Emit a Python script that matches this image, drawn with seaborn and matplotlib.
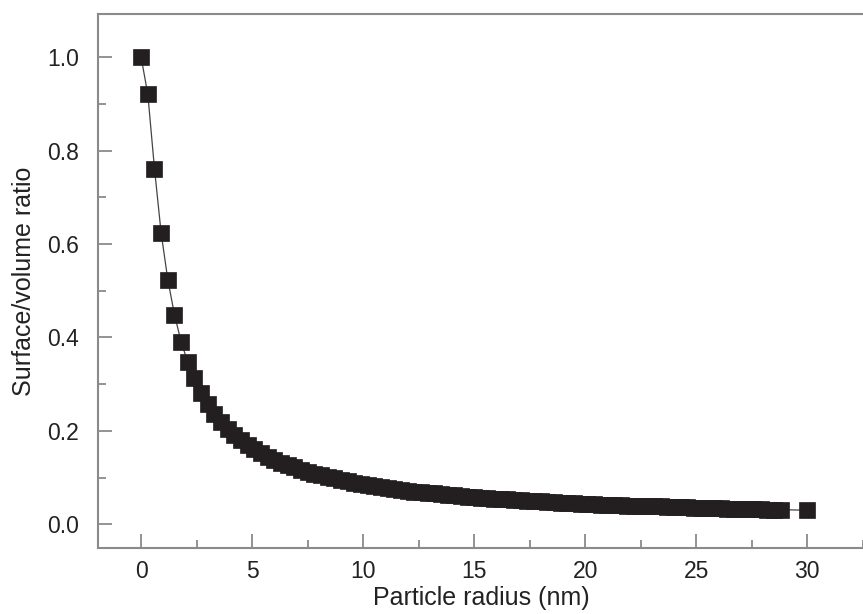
import matplotlib
matplotlib.use("Agg")
import matplotlib.pyplot as plt
from matplotlib.ticker import MultipleLocator
import seaborn as sns
import pandas as pd

# Particle radius (nm)
radius = [0.0, 0.3, 0.6, 0.9, 1.2, 1.5, 1.8, 2.1, 2.4, 2.7,
          3.0, 3.3, 3.6, 3.9, 4.2, 4.5, 4.8, 5.1, 5.4, 5.7,
          6.0, 6.3, 6.6, 6.9, 7.2, 7.5, 7.8, 8.1, 8.4, 8.7,
          9.0, 9.3, 9.6, 9.9, 10.2, 10.5, 10.8, 11.1, 11.4, 11.7,
          12.0, 12.3, 12.6, 12.9, 13.2, 13.5, 13.8, 14.1, 14.4, 14.7,
          15.0, 15.3, 15.6, 15.9, 16.2, 16.5, 16.8, 17.1, 17.4, 17.7,
          18.0, 18.3, 18.6, 18.9, 19.2, 19.5, 19.8, 20.1, 20.4, 20.7,
          21.0, 21.3, 21.6, 21.9, 22.2, 22.5, 22.8, 23.1, 23.4, 23.7,
          24.0, 24.3, 24.6, 24.9, 25.2, 25.5, 25.8, 26.1, 26.4, 26.7,
          27.0, 27.3, 27.6, 27.9, 28.2, 28.5, 28.8, 30.0]

# Surface / volume ratio
ratio = [1.000, 0.921, 0.762, 0.624, 0.524, 0.449, 0.391, 0.347, 0.313, 0.281,
         0.257, 0.237, 0.220, 0.205, 0.191, 0.180, 0.170, 0.161, 0.153, 0.145,
         0.138, 0.132, 0.127, 0.122, 0.117, 0.112, 0.108, 0.105, 0.101, 0.098,
         0.095, 0.092, 0.089, 0.087, 0.084, 0.082, 0.080, 0.078, 0.076, 0.074,
         0.072, 0.070, 0.069, 0.067, 0.066, 0.064, 0.063, 0.062, 0.060, 0.059,
         0.058, 0.057, 0.056, 0.055, 0.054, 0.053, 0.052, 0.051, 0.050, 0.049,
         0.049, 0.048, 0.047, 0.046, 0.046, 0.045, 0.044, 0.044, 0.043, 0.042,
         0.042, 0.041, 0.041, 0.040, 0.040, 0.039, 0.039, 0.038, 0.038, 0.037,
         0.037, 0.036, 0.036, 0.035, 0.035, 0.035, 0.034, 0.034, 0.033, 0.033,
         0.033, 0.032, 0.032, 0.032, 0.031, 0.031, 0.031, 0.030]

x_ticks = [0, 5, 10, 15, 20, 25, 30]
y_ticks = [0.0, 0.2, 0.4, 0.6, 0.8, 1.0]
x_label = "Particle radius (nm)"
y_label = "Surface/volume ratio"

sns.set_style("white")
plt.rcParams["font.family"] = ["Liberation Sans", "DejaVu Sans"]

df = pd.DataFrame({"r": radius, "sv": ratio})

fig = plt.figure(figsize=(8.63, 6.14), dpi=100)
W, H = 863, 614
left_px, right_px, top_px, bottom_px = 98.3, 864.7, 14, 548
ax = fig.add_axes([left_px / W, 1 - bottom_px / H,
                   (right_px - left_px) / W, (bottom_px - top_px) / H])

sns.lineplot(data=df, x="r", y="sv", ax=ax, sort=False, estimator=None,
             color="#444444", linewidth=0.9, marker="s", markersize=11,
             markerfacecolor="#231f20", markeredgecolor="#231f20",
             markeredgewidth=0.5)

ax.set_xlim(-1.93, 32.59)
ax.set_ylim(-0.051, 1.093)

ax.set_xticks(x_ticks)
ax.set_xticklabels([str(t) for t in x_ticks])
ax.set_yticks(y_ticks)
ax.set_yticklabels([f"{t:.1f}" for t in y_ticks])
ax.xaxis.set_minor_locator(MultipleLocator(2.5))
ax.yaxis.set_minor_locator(MultipleLocator(0.1))

spine_col = "#8a8a8a"
for s in ["left", "bottom", "top"]:
    ax.spines[s].set_visible(True)
    ax.spines[s].set_color(spine_col)
    ax.spines[s].set_linewidth(1.5)
ax.spines["right"].set_visible(False)

ax.tick_params(axis="both", which="major", direction="in", length=10,
               width=1.3, color=spine_col, labelsize=16.5, labelcolor="#222222",
               bottom=True, left=True, top=False, right=False)
ax.tick_params(axis="both", which="minor", direction="in", length=5.5,
               width=1.3, color=spine_col, bottom=True, left=True,
               top=False, right=False)
ax.tick_params(axis="x", which="major", pad=9)
ax.tick_params(axis="y", which="major", pad=14)

ax.set_xlabel(x_label, fontsize=18, color="#222222", labelpad=2)
ax.set_ylabel(y_label, fontsize=18, color="#222222", labelpad=8)
ax.grid(False)

fig.savefig("out.png", dpi=100)
